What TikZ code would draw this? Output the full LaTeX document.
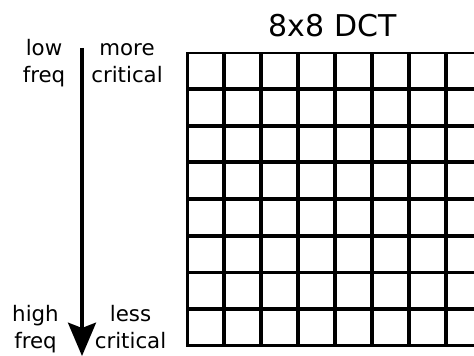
\documentclass[tikz,border=0pt]{standalone}
\usepackage{fontspec}
\setmainfont{DejaVu Sans}
\usetikzlibrary{positioning,arrows.meta}
\tikzset{
grid/.style={
    x=0.75pt,
    y=-0.75pt,
    line width=2pt
},
cell/.style={
    draw,
    inner sep=0pt,
    minimum width=26.8pt,
    minimum height=26.6pt
},
lbl/.style={
    anchor=base,
    align=center,
    font=\fontsize{16}{20.25}\selectfont
},
heading/.style={
    anchor=base,
    font=\fontsize{22.5}{27}\selectfont
},
flow/.style={
    -{Stealth[length=25pt,width=21pt,inset=4pt]},
    line width=2.5pt
}}

\begin{document}
\begin{tikzpicture}[grid]
\useasboundingbox (0,0) rectangle (474,356);
% the 8x8 block of coefficients
\foreach \i in {0,...,7}
  \foreach \j in {0,...,7}
    \node[cell] (c-\i-\j) at (205.2+37*\i, 70.65+36.7*\j) {};
\node[heading]  (title)     at (332.5,37)   {8x8 DCT};

% frequency axis (labels sit on their last line)
\coordinate     (top)       at (82,48);
\coordinate     (tip)       at (82,356);
\draw[flow]     (top) -- (tip);
\node[lbl]      (lowf)      at (44,83)      {low\\freq};
\node[lbl]      (morec)     at (127,83)     {more\\critical};
\node[lbl]      (highf)     at (35.5,348.3) {high\\freq};
\node[lbl]      (lessc)     at (130.5,348.3) {less\\critical};
\end{tikzpicture}
\end{document}
